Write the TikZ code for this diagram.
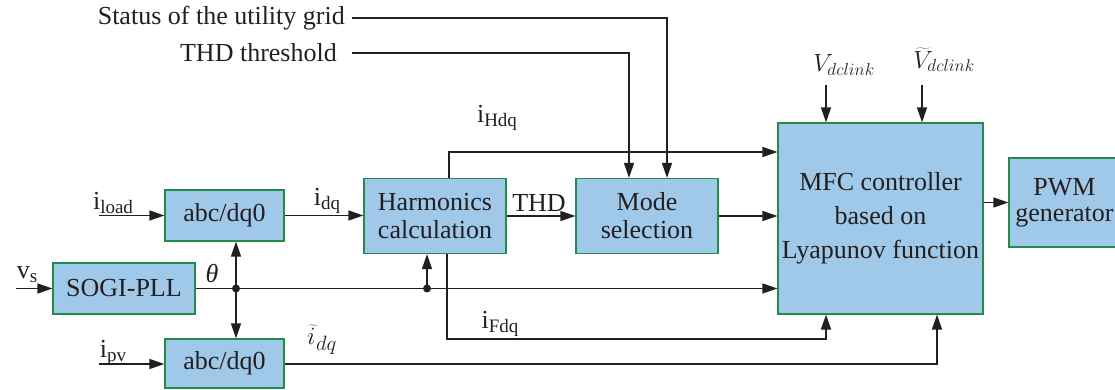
\documentclass[tikz,border=0pt]{standalone}
\usepackage{fontspec}
\setmainfont{Liberation Serif}
\usetikzlibrary{arrows.meta}
\definecolor{boxfill}{RGB}{160,201,233}
\definecolor{boxedge}{RGB}{35,140,75}
\definecolor{linec}{RGB}{35,31,32}
\newcommand{\mylbl}[2]{#1\raisebox{-0.35ex}{\fontsize{19}{19}\selectfont #2}}
\begin{document}
\begin{tikzpicture}[x=1pt,y=-1pt,
 blk/.style={draw=boxedge,fill=boxfill,line width=1.2pt,inner sep=0pt,align=center,font=\rmfamily\fontsize{26}{28}\selectfont,text=linec},
 conn/.style={draw=linec,line width=1.4pt,-{Triangle[length=15pt,width=10pt]}},
 wire/.style={draw=linec,line width=1.4pt},
 lab/.style={font=\rmfamily\fontsize{26}{28}\selectfont,text=linec,inner sep=0pt},
 dotn/.style={circle,fill=linec,inner sep=0pt,minimum size=8pt}]
\useasboundingbox (0,0) rectangle (1115,390);
% blocks
\node[blk,minimum width=119pt,minimum height=51pt] (abc1) at (224.5,215.5) {abc/dq0};
\node[blk,minimum width=142pt,minimum height=51pt] (sogi) at (124,288.5) {SOGI-PLL};
\node[blk,minimum width=119pt,minimum height=49pt] (abc2) at (224.5,363.5) {abc/dq0};
\node[blk,minimum width=142pt,minimum height=75pt] (harm) at (435,216) {Harmonics\\calculation};
\node[blk,minimum width=142pt,minimum height=75pt] (mode) at (647,216) {Mode\\selection};
\node[blk,minimum width=205pt,minimum height=191pt,font=\rmfamily\fontsize{26}{34}\selectfont] (mfc) at (880.5,218.5) {MFC controller\\based on\\Lyapunov function};
\node[blk,minimum width=111pt,minimum height=89pt,font=\rmfamily\fontsize{26}{26}\selectfont] (pwm) at (1064.5,202.5) {PWM\\generator};
% labels
\node[lab,anchor=east] (st) at (345,18) {Status of the utility grid};
\node[lab,anchor=east] (thr) at (337,53) {THD threshold};
\node[lab] (lvs) at (27,275) {\mylbl{v}{s}};
\node[lab] (lload) at (113,203) {\mylbl{i}{load}};
\node[lab] (lpv) at (113,353) {\mylbl{i}{pv}};
\node[lab] (lidq) at (327,201) {\mylbl{i}{dq}};
\node[lab] (lth) at (212,274) {\itshape θ};
\node[lab,font=\fontsize{30}{30}\selectfont] (ltq) at (322,340) {$\widetilde{i\,}_{\!dq}$};
\node[lab] (lthd) at (539,203) {THD};
\node[lab] (lhdq) at (497,118) {\mylbl{i}{Hdq}};
\node[lab] (lfdq) at (500,324) {\mylbl{i}{Fdq}};
\node[lab,font=\fontsize{24}{24}\selectfont] (lvd) at (844,65) {$V_{dclink}$};
\node[lab,font=\fontsize{24}{24}\selectfont] (lvt) at (944,60) {$\widetilde{V}_{dclink}$};
% coordinates
\coordinate (cload) at (99,215.5);
\coordinate (cvs) at (16,288.5);
\coordinate (cpv) at (99,364);
\coordinate (lx) at (352,0);
\coordinate (sx) at (667,0);
\coordinate (tx) at (629,0);
\coordinate (hx) at (449,152);
\coordinate (fx) at (447,339);
\coordinate (b1) at (826,0);
\coordinate (b2) at (937,0);
\coordinate (v1) at (826,85);
\coordinate (v2) at (922,85);
\node[dotn] (j1) at (236,288.5) {};
\node[dotn] (j2) at (427,288.5) {};
% connectors
\draw[conn] (cload) -- (abc1.west);
\draw[conn] (abc1.east) -- (abc1.east -| harm.west);
\draw[conn] (cvs) -- (sogi.west);
\draw[wire] (sogi.east) -- (j1.center) -- (j2.center);
\draw[conn] (j2.center) -- (j2.center -| mfc.west);
\draw[conn] (j1.center) -- (j1.center |- abc1.south);
\draw[conn] (j1.center) -- (j1.center |- abc2.north);
\draw[conn] (j2.center) -- (j2.center |- harm.south);
\draw[conn] (cpv) -- (cpv -| abc2.west);
\draw[conn] (abc2.east |- cpv) -| (b2 |- mfc.south);
\draw[conn] (fx |- harm.south) -- (fx) -| (b1 |- mfc.south);
\draw[conn] (hx |- harm.north) -- (hx) -- (hx -| mfc.west);
\draw[conn] (harm.east) -- (mode.west);
\draw[conn] (mode.east) -- (mode.east -| mfc.west);
\draw[conn] (pwm.west -| mfc.east) -- (pwm.west);
\draw[conn] (lx |- st.east) -| (sx |- mode.north);
\draw[conn] (lx |- thr.east) -| (tx |- mode.north);
\draw[conn] (v1) -- (v1 |- mfc.north);
\draw[conn] (v2) -- (v2 |- mfc.north);
\end{tikzpicture}
\end{document}
